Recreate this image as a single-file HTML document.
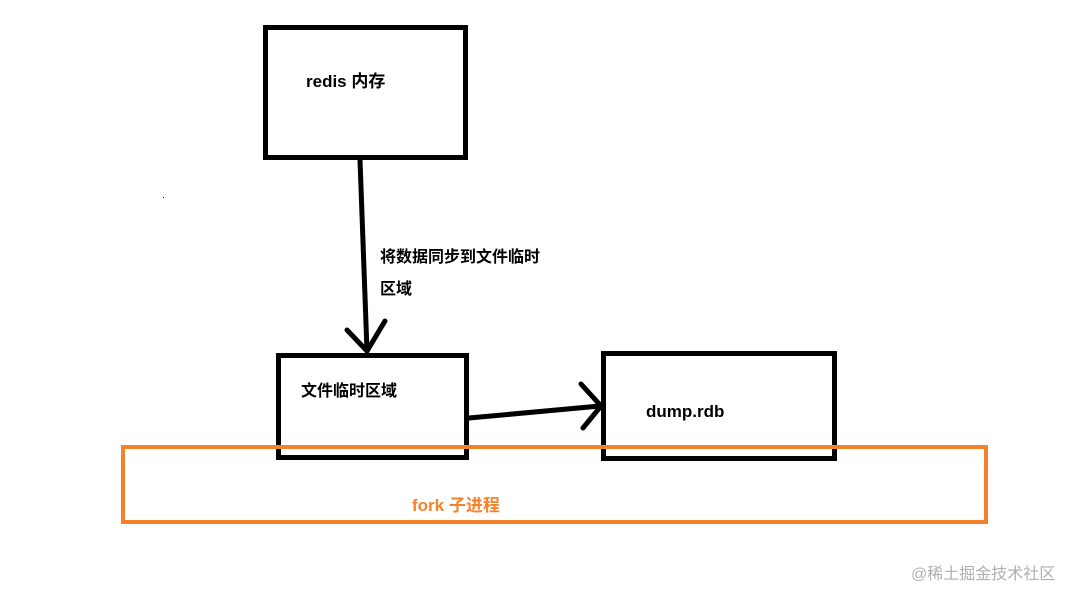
<!DOCTYPE html>
<html><head><meta charset="utf-8"><style>
body{margin:0;background:#fff;}
svg text{font-family:"Liberation Sans","Noto Sans CJK SC",sans-serif;font-weight:bold;}
</style></head><body>
<svg width="1079" height="589" viewBox="0 0 1079 589" xmlns="http://www.w3.org/2000/svg">
<rect x="265.5" y="27.5" width="200" height="130" fill="none" stroke="#000" stroke-width="5"/>
<rect x="278.5" y="355.5" width="188" height="102" fill="none" stroke="#000" stroke-width="5"/>
<rect x="603.5" y="353.5" width="231" height="105" fill="none" stroke="#000" stroke-width="5"/>
<rect x="123" y="447" width="863" height="75" fill="none" stroke="#f5822a" stroke-width="4"/>
<g stroke="#000" stroke-width="5" fill="none" stroke-linecap="round">
<line x1="360" y1="160" x2="367" y2="351"/>
<polyline points="347,330 367,351 385,321"/>
<line x1="469" y1="418" x2="600" y2="406"/>
<polyline points="581,384 601,406 583,428"/>
</g>
<rect x="163" y="197" width="1" height="1" fill="#000"/>
<text x="306" y="87" font-size="17" fill="#000">redis 内存</text>
<text x="380" y="262" font-size="16" fill="#000">将数据同步到文件临时</text>
<text x="380" y="294" font-size="16" fill="#000">区域</text>
<text x="301" y="396" font-size="16" fill="#000">文件临时区域</text>
<text x="646" y="417" font-size="17" fill="#000">dump.rdb</text>
<text x="412" y="511" font-size="17" fill="#f5822a">fork 子进程</text>
<text x="911" y="579" font-size="16" fill="#b0b0b0" style="font-weight:normal">@稀土掘金技术社区</text>
</svg>
</body></html>
